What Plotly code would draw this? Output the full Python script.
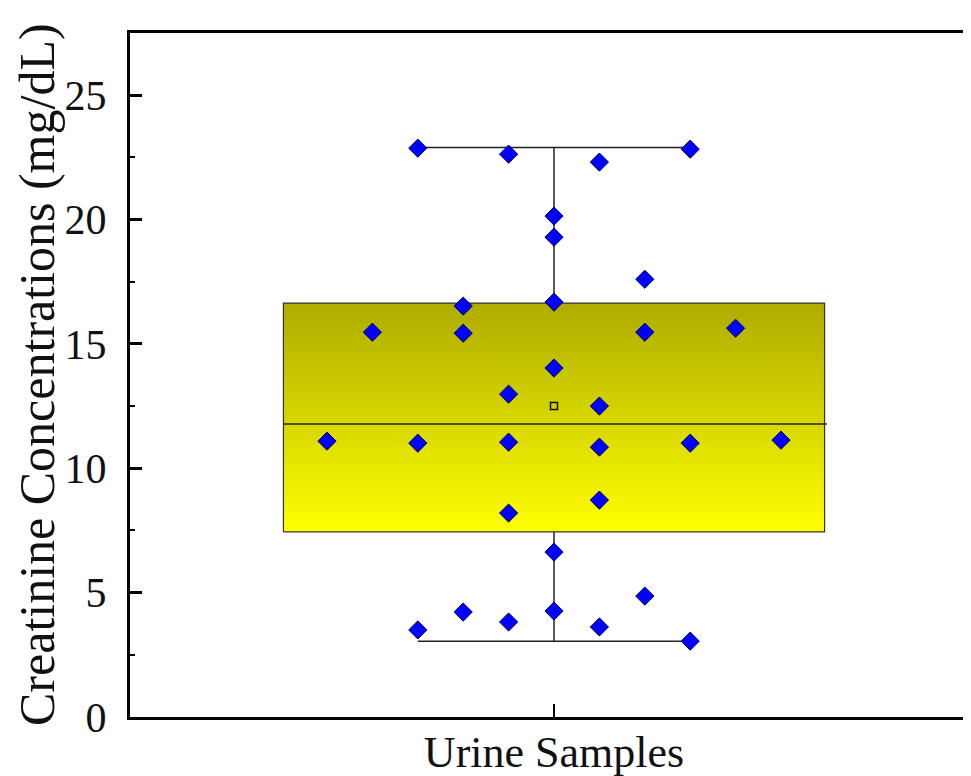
import plotly.graph_objects as go

# ---- data ----
categories = ["Urine Samples"]
creatinine = [22.87, 22.63, 22.31, 22.83, 20.14, 19.29, 17.60, 16.52, 16.68,
              15.47, 15.43, 15.47, 15.63, 14.03, 12.98, 12.50, 11.09, 11.01,
              11.05, 10.85, 11.01, 11.13, 8.20, 8.72, 6.63, 4.22, 4.26, 4.86,
              3.50, 3.82, 3.62, 3.05]
# horizontal jitter slot of each point (-5 .. 5)
jitter_slot = [-3, -1, 1, 3, 0, 0, 2, -2, 0,
               -4, -2, 2, 4, 0, -1, 1, -5, -3,
               -1, 1, 3, 5, -1, 1, 0, -2, 0, 2,
               -3, -1, 1, 3]
q1 = 7.44
median = 11.78
q3 = 16.64
mean_val = 12.5
whisker_low = 3.05
whisker_high = 22.90
y_ticks = [0, 5, 10, 15, 20, 25]

# ---- geometry (styles) ----
center = 1.0
slot_w = 0.1
box_hw = 0.596
cap_hw = 0.30

xs = [center + s * slot_w for s in jitter_slot]

fig = go.Figure()

# gradient filled box
fig.add_trace(go.Scatter(
    x=[center - box_hw, center + box_hw, center + box_hw, center - box_hw, center - box_hw],
    y=[q1, q1, q3, q3, q1],
    mode="lines", fill="toself",
    line=dict(color="#333333", width=1.2),
    fillgradient=dict(type="vertical", start=q1, stop=q3,
                      colorscale=[[0, "#ffff00"], [1, "#aeac00"]]),
    hoverinfo="skip", showlegend=False))

# median line
fig.add_trace(go.Scatter(
    x=[center - box_hw, center + box_hw + 0.005], y=[median, median],
    mode="lines", line=dict(color="#222222", width=1.5),
    hoverinfo="skip", showlegend=False))

# whiskers
fig.add_trace(go.Scatter(
    x=[center, center, None, center - cap_hw, center + cap_hw, None,
       center, center, None, center - cap_hw, center + cap_hw],
    y=[q3, whisker_high, None, whisker_high, whisker_high, None,
       q1, whisker_low, None, whisker_low, whisker_low],
    mode="lines", line=dict(color="#222222", width=1.5),
    hoverinfo="skip", showlegend=False))

# data points
fig.add_trace(go.Scatter(
    x=xs, y=creatinine, mode="markers",
    marker=dict(symbol="diamond", size=14, color="#0000ff",
                line=dict(color="#00005a", width=1)),
    showlegend=False))

# mean marker
fig.add_trace(go.Scatter(
    x=[center], y=[mean_val], mode="markers",
    marker=dict(symbol="square-open", size=7, color="#111111", line=dict(width=1.5)),
    showlegend=False))

# dummy trace for right axis
fig.add_trace(go.Scatter(x=[None], y=[None], yaxis="y2", showlegend=False))

font_family = "Liberation Serif, Times New Roman, serif"

# page body has an 8px default margin, so the figure is sized/offset to compensate
fig.update_layout(
    width=963, height=768,
    margin=dict(l=122, r=0, t=25, b=59, autoexpand=False),
    paper_bgcolor="white", plot_bgcolor="white",
    font=dict(family=font_family, color="#111111"),
    xaxis=dict(
        range=[center - 424 / 454, center + 417 / 454],
        tickvals=[center], ticktext=categories,
        ticks="inside", ticklen=13, tickwidth=2, tickcolor="black",
        tickfont=dict(size=44, family=font_family, color="#111111"),
        ticklabelstandoff=-6, automargin=False,
        showline=True, linewidth=3, linecolor="black", mirror=True,
        showgrid=False, zeroline=False),
    yaxis=dict(
        range=[0, 27.5], tickvals=y_ticks,
        ticks="inside", ticklen=12, tickwidth=3, tickcolor="black",
        minor=dict(dtick=2.5, ticks="inside", ticklen=5, tickwidth=2, tickcolor="black"),
        tickfont=dict(size=42, family=font_family, color="#111111"),
        ticklabelstandoff=12, automargin=False,
        showline=True, linewidth=3, linecolor="black",
        showgrid=False, zeroline=False),
    yaxis2=dict(
        range=[0, 27.5], tickvals=y_ticks, overlaying="y", side="right",
        ticks="inside", ticklen=6, tickwidth=3, tickcolor="black",
        showticklabels=False, showline=False, showgrid=False, zeroline=False,
        automargin=False),
    annotations=[dict(
        text="Creatinine Concentrations (mg/dL)", textangle=-90,
        xref="paper", yref="paper", x=(37 - 130) / 841, y=0.5,
        xanchor="center", yanchor="middle", showarrow=False,
        font=dict(size=50, family=font_family, color="#111111"))],
)

fig.write_html("out.html")
